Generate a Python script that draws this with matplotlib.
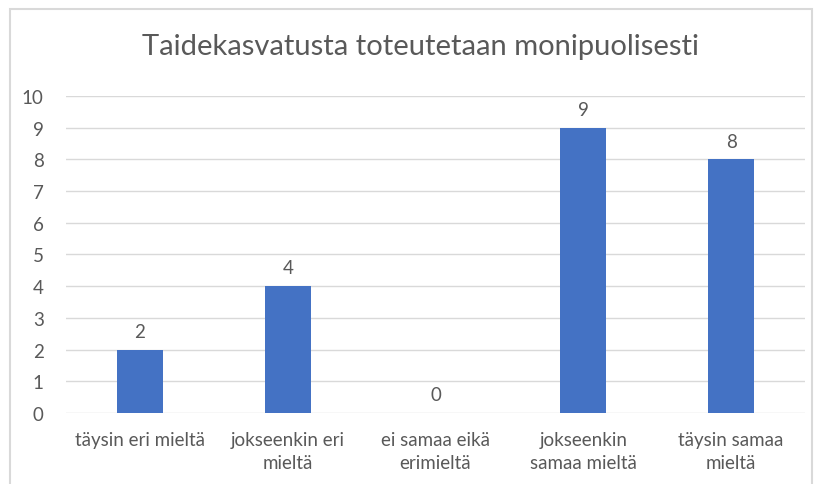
import matplotlib.pyplot as plt
from matplotlib.patches import Rectangle

categories = ["täysin eri mieltä", "jokseenkin eri\nmieltä", "ei samaa eikä\nerimieltä",
              "jokseenkin\nsamaa mieltä", "täysin samaa\nmieltä"]
values = [2, 4, 0, 9, 8]
yticks = list(range(0, 11))

plt.rcParams['font.family'] = ['Lato', 'DejaVu Sans']
text_color = '#595959'

fig = plt.figure(figsize=(8.19, 4.85), dpi=100)
ax = fig.add_axes([0.0806, 0.1464, 0.9024, 0.6536])

# chart border
fig.patches.append(Rectangle((10 / 819, -0.05), 802 / 819, 1 - 10 / 485 + 0.05,
                             transform=fig.transFigure, fill=False,
                             edgecolor='#d9d9d9', linewidth=1.5))

x = range(len(categories))
bars = ax.bar(x, values, width=0.31, color='#4472c4', zorder=3)
for b, v in zip(bars, values):
    ax.annotate(str(v), (b.get_x() + b.get_width() / 2, v), xytext=(0, 7),
                textcoords='offset points', ha='center', va='bottom',
                fontsize=13.5, color=text_color)

ax.set_xlim(-0.5, len(categories) - 0.5)
ax.set_ylim(0, 10)
ax.set_yticks(yticks)
ax.set_xticks(list(x))
ax.set_xticklabels(categories, fontsize=13.5, color=text_color, linespacing=1.45)
ax.tick_params(axis='y', labelsize=13.5, labelcolor=text_color, length=0, pad=16)
ax.tick_params(axis='x', length=0, pad=13)
ax.grid(axis='y', color='#d9d9d9', linewidth=1, zorder=0)
for s in ax.spines.values():
    s.set_visible(False)

fig.text(0.513, 0.903, "Taidekasvatusta toteutetaan monipuolisesti",
         ha='center', va='center', fontsize=21, color=text_color)

fig.savefig('out.png', dpi=100)
